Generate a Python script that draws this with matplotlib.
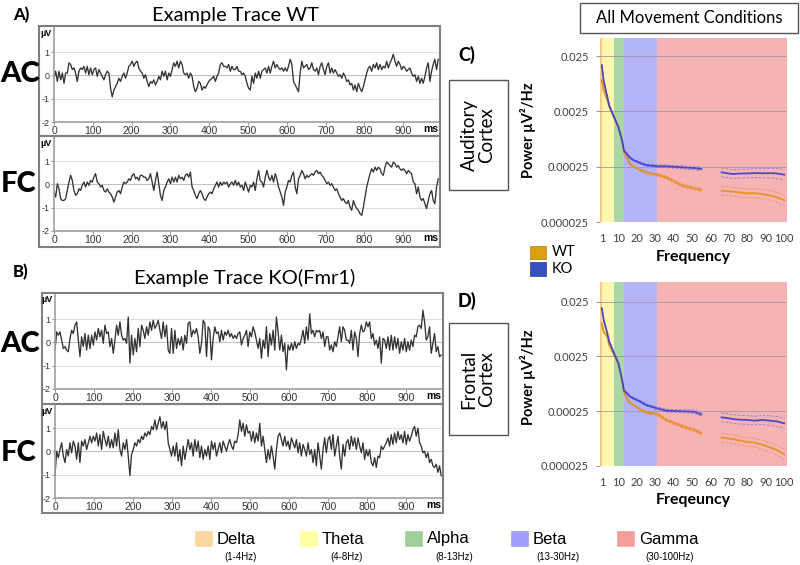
import numpy as np
import matplotlib
matplotlib.use("Agg")
import matplotlib.pyplot as plt
from matplotlib.patches import Rectangle
from matplotlib.ticker import NullLocator

plt.rcParams['font.family'] = ['Lato', 'DejaVu Sans']

wt_ac = [
    -0.12, 0.18, -0.26, 0.18, -0.19, 0.10, -0.34, 0.10, 0.10, 0.54,
    0.47, 0.25, 0.32, 0.10, -0.26, 0.18, 0.32, 0.25, 0.39, 0.10,
    0.39, 0.03, 0.32, 0.03, 0.25, 0.32, -0.04, 0.25, 0.10, -0.04,
    -0.19, 0.03, 0.18, 0.10, -0.55, -0.92, -0.63, -0.48, -0.34, -0.12,
    -0.26, -0.04, 0.10, -0.12, 0.10, 0.39, 0.47, 0.61, 0.39, 0.54,
    0.61, 0.32, 0.18, 0.10, -0.12, 0.03, -0.26, -0.48, -0.26, -0.34,
    -0.19, -0.41, -0.26, -0.04, -0.19, 0.18, -0.04, 0.18, -0.19, 0.10,
    -0.04, 0.25, 0.54, 0.39, 0.61, 0.32, 0.61, 0.47, 0.10, 0.03,
    0.10, -0.12, 0.10, -0.04, -0.48, -0.70, -0.55, -0.26, -0.34, -0.63,
    -0.48, -0.55, -0.41, -0.26, -0.19, -0.12, -0.04, -0.26, -0.04, 0.10,
    0.47, 0.54, 0.39, 0.39, 0.32, 0.47, 0.18, 0.39, 0.25, 0.25,
    0.39, 0.18, 0.18, 0.03, 0.10, -0.04, -0.34, -0.55, -0.63, -0.04,
    -0.34, 0.10, -0.12, 0.18, -0.12, 0.18, 0.25, 0.32, 0.10, 0.39,
    0.10, 0.39, 0.61, 0.32, 0.47, 0.32, 0.25, 0.32, 0.18, 0.32,
    0.18, 0.39, 0.69, 0.47, -0.26, -0.41, -0.55, -0.70, 0.10, 0.61,
    0.32, 0.39, 0.47, 0.25, 0.32, 0.54, 0.25, 0.18, 0.32, 0.03,
    0.39, 0.54, 0.25, 0.03, 0.39, 0.54, 0.10, 0.32, 0.10, 0.25,
    0.10, -0.04, 0.03, -0.12, 0.10, -0.04, -0.26, -0.19, -0.41, -0.34,
    -0.63, -0.41, -0.70, -0.34, -0.55, -0.70, -0.48, -0.19, 0.10, 0.32,
    0.39, 0.18, 0.47, 0.32, 0.54, 0.25, 0.47, 0.25, 0.39, 0.32,
    0.61, 0.32, 0.54, 0.69, 0.91, 0.61, 0.39, 0.61, 0.47, 0.25,
    0.39, 0.32, 0.18, 0.25, 0.32, 0.10, -0.04, 0.03, -0.26, -0.04,
    -0.34, -0.12, -0.34, -0.04, 0.32, 0.54, -0.26, 0.18, 0.47, 0.69,
    0.25, 0.69]

wt_fc = [
    -0.33, -0.54, 0.03, -0.19, -0.61, -0.69, -0.69, -0.61, -0.26, 0.10,
    0.39, 0.17, -0.26, -0.47, -0.40, -0.19, -0.26, -0.04, 0.10, -0.11,
    0.10, -0.04, 0.17, 0.10, 0.31, 0.46, 0.10, 0.03, -0.11, -0.04,
    -0.26, -0.33, -0.19, -0.33, -0.40, -0.54, -0.76, -0.54, -0.33, -0.26,
    -0.40, -0.11, 0.10, 0.03, 0.10, 0.24, 0.17, 0.39, 0.46, 0.24,
    0.31, 0.17, 0.39, 0.39, 0.31, 0.31, 0.17, 0.24, 0.46, 0.10,
    -0.26, 0.17, 0.53, 0.03, -0.47, -0.69, -0.26, -0.11, 0.10, 0.24,
    0.03, 0.31, 0.10, 0.31, 0.10, 0.39, 0.24, 0.31, 0.17, 0.39,
    0.46, 0.31, 0.53, -0.11, -0.26, -0.47, -0.61, -0.40, -0.26, -0.40,
    -0.61, -0.69, -0.54, -0.40, -0.33, -0.40, -0.19, -0.04, 0.10, -0.11,
    0.10, -0.04, 0.10, 0.03, 0.10, -0.11, 0.03, 0.10, -0.04, 0.17,
    -0.04, 0.10, -0.11, -0.04, -0.26, 0.10, -0.11, -0.33, -0.04, -0.11,
    0.10, -0.26, 0.24, 0.60, 0.17, 0.10, -0.11, 0.31, 0.60, 0.31,
    0.17, 0.39, 0.10, 0.46, 0.24, -0.11, -0.33, -0.54, -0.90, -0.33,
    -0.11, 0.17, 0.10, 0.39, 0.53, -0.11, -0.40, 0.24, 0.39, 0.60,
    0.46, 0.24, 0.39, 0.31, 0.39, 0.46, 0.39, 0.53, 0.60, 0.46,
    0.53, 0.39, 0.31, 0.17, 0.03, 0.10, -0.04, 0.03, -0.11, -0.26,
    -0.19, -0.40, -0.54, -0.69, -0.61, -0.76, -0.83, -0.69, -0.97, -1.11,
    -0.69, -0.90, -1.04, -1.11, -1.26, -1.33, -0.97, -0.54, -0.11, 0.17,
    0.46, 0.67, 0.53, 0.74, 0.60, 0.74, 0.67, 0.46, 0.39, 0.74,
    0.96, 0.89, 0.81, 0.74, 0.96, 0.89, 0.74, 0.81, 0.67, 0.60,
    0.67, 0.60, 0.46, 0.60, 0.53, 0.46, 0.10, 0.03, -0.40, -0.11,
    -0.54, -0.69, -0.61, -0.83, -1.04, -0.69, -0.40, -0.26, -0.69, -0.83,
    -0.11, 0.24]

ko_ac = [
    -0.33, 0.45, 0.31, 0.45, 0.10, -0.26, -0.18, -0.33, -0.40, 0.17,
    0.52, 0.38, 0.74, 0.88, 0.10, -0.61, 0.24, -0.18, 0.38, -0.33,
    0.31, -0.26, 0.31, -0.11, 0.45, 0.10, 0.60, 0.24, 0.52, -0.04,
    0.74, 0.38, 0.45, -0.18, 0.17, -0.47, 0.10, 0.74, 0.31, 0.88,
    0.31, 0.10, 0.17, -0.04, 1.09, -0.89, 0.31, -0.54, 0.17, -0.40,
    0.60, -0.18, 0.74, 0.52, 0.17, 0.67, 0.31, 0.88, 0.52, 0.95,
    0.60, 0.74, 0.95, 0.52, 0.17, 0.88, 0.24, 0.74, -0.33, -0.47,
    0.60, -0.47, 0.52, -0.26, 0.17, -0.11, 0.24, -0.33, 0.31, -0.04,
    0.81, 0.88, 0.24, 0.52, 0.38, 0.60, 0.24, -0.47, -0.04, 0.95,
    0.81, -0.61, 0.67, 0.52, -0.75, 0.17, 0.67, 0.38, 0.45, 0.03,
    0.52, 0.10, 0.45, 0.31, 0.52, 0.24, 0.38, 0.17, 0.31, 0.17,
    0.38, 0.45, -0.11, 0.17, 0.31, 0.52, -0.18, 0.45, 0.24, 0.67,
    0.45, 0.10, -0.26, 0.17, -0.68, 0.10, -0.26, 0.67, -0.61, 0.38,
    -0.11, 0.52, -0.33, 1.09, 0.45, -0.33, 0.31, -0.40, -0.04, -1.18,
    -0.11, -0.33, -0.04, -0.33, 0.03, -0.26, -0.04, -0.11, 0.17, 0.52,
    -0.04, 0.67, 0.10, 1.23, 0.38, 0.52, 0.24, 0.52, 0.45, 0.52,
    0.17, 0.45, -0.18, 0.24, 0.24, -0.33, -0.11, -0.40, 0.03, -0.18,
    0.24, 0.67, 0.03, 0.67, 0.52, 0.10, 0.10, -0.04, 0.52, -0.33,
    0.45, 0.17, -0.61, 0.38, 0.74, 0.45, 0.52, 0.88, 0.67, 0.88,
    0.17, 0.38, -0.11, 0.10, -0.26, 0.24, -0.89, 0.17, 0.10, -0.26,
    0.24, -0.33, 0.31, -0.33, 0.24, -0.26, 0.17, -0.47, 0.03, -0.33,
    0.17, -0.40, 0.03, -0.33, 0.10, -0.18, 0.31, 0.24, 0.67, 0.74,
    0.60, 1.38, 0.88, 0.10, 0.24, 0.67, -0.47, -0.04, 0.38, -0.40,
    -0.18, -0.61, -0.54]

ko_fc = [
    -1.04, 0.01, -0.27, 0.08, 0.37, -0.20, -0.48, 0.08, -0.20, 0.37,
    -0.06, 0.44, 0.23, -0.34, 0.37, -0.48, 0.44, 0.23, 0.51, 0.08,
    0.37, 0.65, 0.37, 0.65, 0.44, 0.79, 0.23, 0.72, 0.08, 0.86,
    0.51, 0.23, 0.65, 0.15, 0.51, 0.15, 0.79, 0.23, 0.93, 0.08,
    -0.20, 0.37, 0.08, 0.51, -0.20, -1.04, -0.13, 0.08, 0.37, 0.23,
    0.51, 0.37, 0.65, 0.51, 0.79, 0.65, 0.86, 0.72, 1.07, 0.93,
    1.35, 0.93, 1.21, 1.49, 1.00, 1.28, 0.93, 1.28, 0.37, 0.08,
    -0.20, 0.23, -0.20, 0.37, -0.41, 0.08, -0.62, 0.23, -0.34, 0.08,
    0.51, 0.08, 0.37, -0.20, 0.51, 0.01, 0.44, -0.27, 0.23, -0.34,
    0.08, -0.20, 0.23, -0.34, 0.44, 0.08, 0.37, -0.20, 0.08, 0.37,
    -0.06, 0.44, 0.23, 0.01, 0.30, 0.51, 0.23, 0.08, 0.44, 0.37,
    0.72, 1.35, 0.86, 1.21, 0.65, 1.14, 0.79, 0.86, 0.44, 0.86,
    0.37, 0.79, 0.44, 1.21, 0.23, 0.65, 0.08, -0.48, 0.08, -0.34,
    0.23, -0.20, -0.76, 0.08, 0.65, 0.79, 0.51, 0.23, 0.65, 0.23,
    0.44, 0.08, 0.58, 0.37, 0.15, 0.51, -0.06, 0.37, -0.20, 0.30,
    0.08, -0.20, 0.37, -0.13, 0.08, -0.48, 0.08, -0.62, 0.37, -0.20,
    -0.76, 0.08, 0.58, -0.06, 0.51, 0.65, 0.08, 0.72, -0.20, 0.23,
    0.65, -0.20, -0.76, 0.30, -0.20, 0.37, 0.51, 0.08, 0.65, 0.23,
    0.58, 0.08, 0.58, 0.23, -0.06, 0.37, -0.34, 0.08, -0.20, 0.08,
    -0.48, -0.62, -0.27, -0.69, -0.20, -0.27, 0.23, 0.08, 0.23, 0.37,
    0.58, 0.23, 0.72, 0.30, 0.79, 0.37, 0.86, 0.51, 0.72, 0.37,
    0.86, 0.30, 0.72, 0.44, 0.65, 0.93, 1.07, 0.65, 1.00, 0.37,
    0.23, -0.06, 0.01, -0.27, -0.06, -0.48, -0.34, -0.62, -0.69, -0.55,
    -0.90, -0.62, -1.04]

trace_end_ms = 990
trace_xticks = [0, 100, 200, 300, 400, 500, 600, 700, 800, 900]
trace_yticks = [-2, -1, 0, 1]

# --- power spectra (µV²/Hz) ---
freq_lo = [1, 2, 4, 5, 8, 10, 12, 13, 15, 16, 18, 22, 25, 31, 36, 45, 51, 55]
freq_hi = [66, 69, 72, 76, 80, 84, 88, 92, 96, 100]

ko_ac_lo = [0.0171, 0.0090, 0.0045, 0.0032, 0.00184, 0.00130, 0.00074, 0.00049, 0.00041,
            0.00037, 0.00033, 0.00029, 0.000268, 0.000254, 0.000254, 0.000243, 0.000236, 0.000227]
wt_ac_lo = [0.0092, 0.0060, 0.0040, 0.0031, 0.00184, 0.00130, 0.00074, 0.000456, 0.000345,
            0.000288, 0.000250, 0.000217, 0.000197, 0.000179, 0.000160, 0.000113, 0.000102, 0.0000954]
ko_ac_hi = [0.000197, 0.000190, 0.000184, 0.000188, 0.000189, 0.000192, 0.000190, 0.000191, 0.000189, 0.000179]
wt_ac_hi = [0.0000916, 0.0000905, 0.0000891, 0.0000850, 0.0000825, 0.0000830, 0.0000800, 0.0000760, 0.0000695, 0.0000620]

ko_fc_lo = [0.0189, 0.0116, 0.0066, 0.00466, 0.00266, 0.00187, 0.00093, 0.000593, 0.000516,
            0.000474, 0.000430, 0.000373, 0.000325, 0.000282, 0.000256, 0.000249, 0.000245, 0.000219]
wt_fc_lo = [0.0100, 0.0071, 0.0057, 0.00405, 0.00255, 0.00187, 0.00093, 0.000569, 0.000400,
            0.000363, 0.000325, 0.000270, 0.000235, 0.000222, 0.000173, 0.000131, 0.000114, 0.0000986]
ko_fc_hi = [0.000193, 0.000188, 0.000180, 0.000175, 0.000173, 0.000168, 0.000173, 0.000168, 0.000163, 0.000150]
wt_fc_hi = [0.0000822, 0.0000799, 0.0000776, 0.0000724, 0.0000686, 0.0000667, 0.0000613, 0.0000548, 0.0000490, 0.0000407]

# SEM envelope (multiplicative)
sem_lo = [1.03, 1.03, 1.03, 1.03, 1.03, 1.03, 1.03, 1.03, 1.04, 1.04, 1.04, 1.05, 1.05, 1.06, 1.06, 1.07, 1.08, 1.08]
sem_hi = [1.2, 1.2, 1.2, 1.2, 1.2, 1.2, 1.21, 1.22, 1.23, 1.25]

power_ticks = [0.000025, 0.00025, 0.0025, 0.025]
power_labels = ['0.000025', '0.00025', '0.0025', '0.025']
freq_ticks = [1, 10, 20, 30, 40, 50, 60, 70, 80, 90, 100]

bands = ['Delta', 'Theta', 'Alpha', 'Beta', 'Gamma']
band_ranges = ['(1-4Hz)', '(4-8Hz)', '(8-13Hz)', '(13-30Hz)', '(30-100Hz)']
band_edges = [0, 1, 7.8, 13, 31, 101.5]
band_fill = ['#F7C98B', '#FFF7AE', '#A9D6A6', '#B3B3F7', '#F5B3B3']
band_key = ['#FAD7A0', '#FFFFA6', '#9FCF9C', '#A09EF8', '#F59E9E']

WT_COLOR, KO_COLOR = '#E8900F', '#3D3DC8'

W, H = 800, 565
fig = plt.figure(figsize=(8, 5.65), dpi=100)


def px_axes(x0, y0, x1, y1):
    return fig.add_axes([x0 / W, 1 - y1 / H, (x1 - x0) / W, (y1 - y0) / H])


def ftext(x, y, s, **kw):
    kw.setdefault('ha', 'center')
    kw.setdefault('va', 'center')
    fig.text(x / W, 1 - y / H, s, **kw)


def frame(x0, y0, x1, y1, color='#808080', lw=1.5, fill=False, fc='none'):
    fig.add_artist(Rectangle((x0 / W, 1 - y1 / H), (x1 - x0) / W, (y1 - y0) / H,
                             transform=fig.transFigure, fill=fill, facecolor=fc,
                             edgecolor=color, lw=lw))


def trace(values, box, left, axis_y):
    bx0, by0, bx1, by1 = box
    frame(bx0, by0, bx1, by1)
    ppu = 23.3
    ax = px_axes(left, by0 + 1, bx1 - 1, axis_y)
    t = np.linspace(0, trace_end_ms, len(values))
    ax.plot(t, values, color='#333333', lw=0.95)
    ax.set_xlim(0, 992)
    ax.set_ylim(-2, -2 + (axis_y - by0 - 1) / ppu)
    for v in (-1, 0, 1):
        ax.axhline(v, color='#bdbdbd' if v == 0 else '#e0e0e0', lw=0.7, zorder=0)
    ax.set_yticks(trace_yticks)
    ax.set_yticklabels([str(v) for v in trace_yticks], fontsize=6.5, family='Liberation Sans')
    ax.set_xticks(trace_xticks)
    ax.set_xticklabels([str(v) for v in trace_xticks], fontsize=7.5, family='Liberation Sans')
    ax.tick_params(axis='y', length=2, pad=1.5, color='#999999', labelcolor='#333333')
    ax.tick_params(axis='x', length=2, pad=1, color='#999999', labelcolor='#333333')
    for s in ('top', 'right'):
        ax.spines[s].set_visible(False)
    for s in ('left', 'bottom'):
        ax.spines[s].set_color('#a0a0a0')
        ax.spines[s].set_linewidth(1.2)
    ftext(left - 8, by0 + 7, 'µV', fontsize=6.5, fontweight='bold', family='Liberation Sans')
    ftext(bx1 - 9, axis_y + 7, 'ms', fontsize=7.5, fontweight='bold', family='Liberation Sans')


def spectrum(rect, ko_lo, wt_lo, ko_hi, wt_hi, ytop):
    ax = px_axes(*rect)
    for i, c in enumerate(band_fill):
        ax.axvspan(band_edges[i], band_edges[i + 1], color=c, lw=0, zorder=0)
    for f, wt, ko, sem in ((freq_lo, wt_lo, ko_lo, sem_lo), (freq_hi, wt_hi, ko_hi, sem_hi)):
        wt = np.array(wt)
        ko = np.array(ko)
        sem = np.array(sem)
        for y, c, dc in ((wt, WT_COLOR, '#F08A6A'), (ko, KO_COLOR, '#8A7AD8')):
            ax.plot(f, y * sem, color=dc, lw=0.6, ls=(0, (3, 2)), zorder=2)
            ax.plot(f, y / sem, color=dc, lw=0.6, ls=(0, (3, 2)), zorder=2)
            ax.plot(f, y, color=c, lw=1.3, zorder=3, alpha=0.9)
    ax.set_yscale('log')
    ax.set_xlim(0, 101.5)
    ax.set_ylim(0.000025, ytop)
    ax.yaxis.set_minor_locator(NullLocator())
    ax.set_yticks(power_ticks)
    ax.set_yticklabels(power_labels, fontsize=8, color='#404040')
    ax.set_xticks(freq_ticks)
    ax.set_xticklabels([str(v) for v in freq_ticks], fontsize=8, color='#404040')
    ax.tick_params(axis='y', length=3, pad=5, color='#999999')
    ax.tick_params(axis='x', length=0, pad=8)
    ax.grid(axis='y', color='#9a9aa8', lw=0.6)
    for s in ax.spines.values():
        s.set_visible(False)
    return ax


# ---- panel A / B : example traces ----
ftext(21, 15, 'A)', fontsize=12, fontweight='black')
ftext(235, 16, 'Example Trace WT', fontsize=14.5)
trace(wt_ac, (39, 26, 440, 136), 54, 122)
trace(wt_fc, (39, 136, 440, 247), 54, 231)
ftext(20, 74, 'AC', fontsize=21, fontweight='black')
ftext(19, 184, 'FC', fontsize=21, fontweight='black')

ftext(21, 272, 'B)', fontsize=12, fontweight='black')
ftext(245, 278, 'Example Trace KO(Fmr1)', fontsize=14.5)
trace(ko_ac, (42, 293, 443, 404), 55, 389)
trace(ko_fc, (42, 404, 443, 513), 55, 498)
ftext(20, 344, 'AC', fontsize=21, fontweight='black')
ftext(19, 453, 'FC', fontsize=21, fontweight='black')

# ---- panel C / D : spectra ----
frame(580, 3, 798, 33, color='#555555', lw=1)
ftext(689, 18, 'All Movement Conditions', fontsize=12)

ftext(467, 55, 'C)', fontsize=13, fontweight='black')
frame(449, 80, 508, 190, color='#555555', lw=1)
ftext(478, 135, 'Auditory\nCortex', fontsize=13.5, rotation=90, linespacing=1.05)
spectrum((600, 38, 787, 222), ko_ac_lo, wt_ac_lo, ko_ac_hi, wt_ac_hi, 0.053)
ftext(528, 130, 'Power µV²/Hz', fontsize=10.5, fontweight='bold', rotation=90)
ftext(693, 257, 'Frequency', fontsize=11.5, fontweight='bold')

ftext(467, 301, 'D)', fontsize=13, fontweight='black')
frame(449, 323, 508, 435, color='#555555', lw=1)
ftext(478, 379, 'Frontal\nCortex', fontsize=13.5, rotation=90, linespacing=1.05)
spectrum((600, 282, 787, 466), ko_fc_lo, wt_fc_lo, ko_fc_hi, wt_fc_hi, 0.057)
ftext(528, 377, 'Power µV²/Hz', fontsize=10.5, fontweight='bold', rotation=90)
ftext(693, 500, 'Freqeuncy', fontsize=11.5, fontweight='bold')

# WT / KO key
frame(530, 246, 546, 259, color='#b08010', lw=0.5, fill=True, fc='#D9A014')
frame(530, 262, 546, 276, color='#2a3a9a', lw=0.5, fill=True, fc='#3A4FC0')
ftext(552, 252.5, 'WT', fontsize=10.5, ha='left')
ftext(552, 269, 'KO', fontsize=10.5, ha='left')

# ---- band key at the bottom ----
key_x = [195, 300, 405, 511, 617]
range_x = [241, 347, 454, 558, 670]
for i, name in enumerate(bands):
    frame(key_x[i], 531, key_x[i] + 17, 546, color=band_key[i], lw=0.5, fill=True, fc=band_key[i])
    ftext(key_x[i] + 22, 539, name, fontsize=12, ha='left', family='Liberation Sans')
    ftext(range_x[i], 557.5, band_ranges[i], fontsize=7, family='Liberation Sans')

fig.savefig('out.png', dpi=100)
